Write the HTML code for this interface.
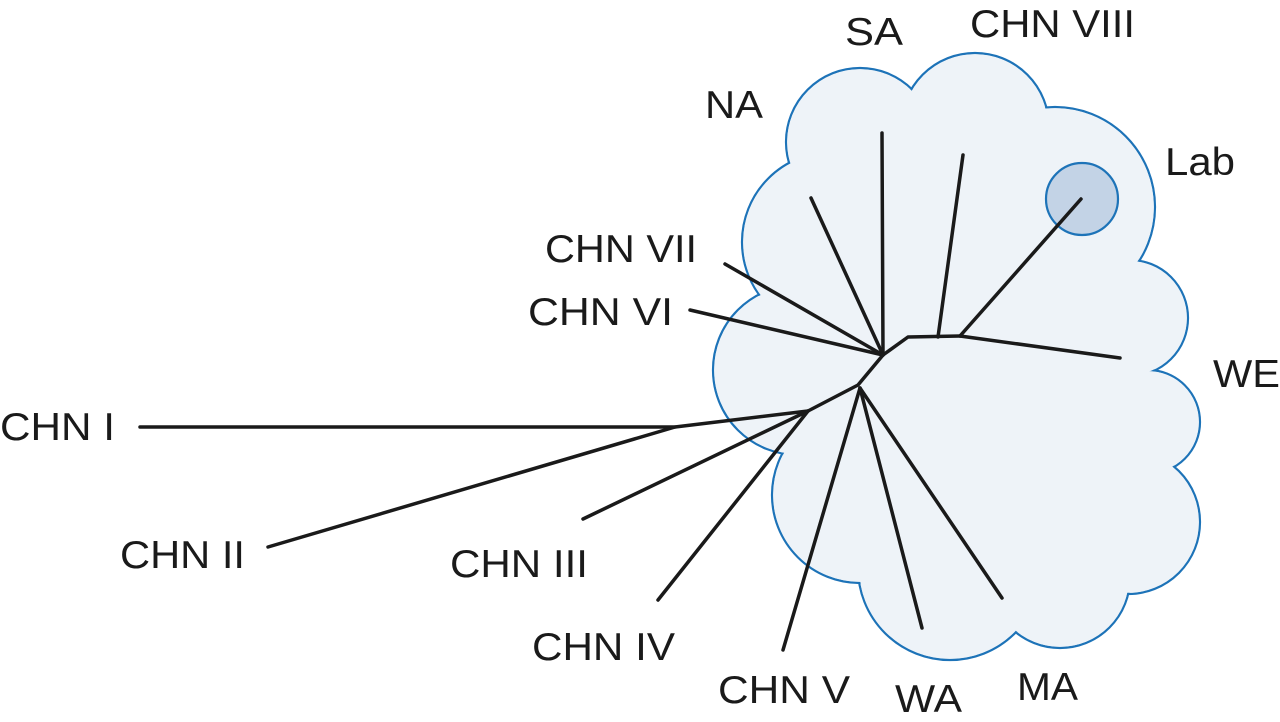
<!DOCTYPE html>
<html><head><meta charset="utf-8"><style>html,body{margin:0;padding:0;background:#fff}svg{display:block}</style></head>
<body>
<svg width="1280" height="722" viewBox="0 0 1280 722" xmlns="http://www.w3.org/2000/svg">
<g stroke="#1d73b8" stroke-width="2.2" fill="#eef3f8">
<circle cx="860" cy="142" r="74"/>
<circle cx="975" cy="127" r="74"/>
<circle cx="1055" cy="207" r="100"/>
<circle cx="1130" cy="318" r="58"/>
<circle cx="1148" cy="422" r="52"/>
<circle cx="1128" cy="522" r="72"/>
<circle cx="1060" cy="578" r="70"/>
<circle cx="950" cy="568" r="92"/>
<circle cx="860" cy="495" r="88"/>
<circle cx="798" cy="370" r="85"/>
<circle cx="832" cy="242" r="90"/>
</g>
<g fill="#eef3f8">
<circle cx="860" cy="142" r="72.8"/>
<circle cx="975" cy="127" r="72.8"/>
<circle cx="1055" cy="207" r="98.8"/>
<circle cx="1130" cy="318" r="56.8"/>
<circle cx="1148" cy="422" r="50.8"/>
<circle cx="1128" cy="522" r="70.8"/>
<circle cx="1060" cy="578" r="68.8"/>
<circle cx="950" cy="568" r="90.8"/>
<circle cx="860" cy="495" r="86.8"/>
<circle cx="798" cy="370" r="83.8"/>
<circle cx="832" cy="242" r="88.8"/>
<circle cx="960" cy="380" r="150"/>
<circle cx="930" cy="200" r="70"/>
<circle cx="1080" cy="440" r="80"/>
<circle cx="1110" cy="380" r="40"/>
<circle cx="1060" cy="500" r="60"/>
</g>
<circle cx="1082" cy="199" r="36" fill="#c3d3e6" stroke="#1d73b8" stroke-width="2.2"/>
<g stroke="#1a1a1a" stroke-width="3.5" fill="none" stroke-linecap="round" stroke-linejoin="round">
<line x1="883" y1="355" x2="811" y2="198"/>
<line x1="883" y1="355" x2="882" y2="133"/>
<line x1="883" y1="355" x2="725" y2="264"/>
<line x1="883" y1="355" x2="690" y2="310"/>
<polyline points="883,355 908,337 960,336"/>
<line x1="938" y1="337" x2="963" y2="155"/>
<line x1="960" y1="336" x2="1081" y2="199"/>
<line x1="960" y1="336" x2="1120" y2="358"/>
<polyline points="883,355 858,385 808,411 675,427 140,427"/>
<line x1="675" y1="427" x2="268" y2="547"/>
<line x1="808" y1="411" x2="583" y2="519"/>
<line x1="808" y1="411" x2="658" y2="600"/>
<line x1="860" y1="388" x2="783" y2="650"/>
<line x1="860" y1="388" x2="922" y2="628"/>
<line x1="860" y1="388" x2="1002" y2="598"/>
</g>
<g font-family="Liberation Sans, sans-serif" font-size="39" fill="#1a1a1a">
<text x="845" y="45" textLength="58" lengthAdjust="spacingAndGlyphs">SA</text>
<text x="970" y="37" textLength="165" lengthAdjust="spacingAndGlyphs">CHN VIII</text>
<text x="705" y="118" textLength="58" lengthAdjust="spacingAndGlyphs">NA</text>
<text x="1165" y="175" textLength="70" lengthAdjust="spacingAndGlyphs">Lab</text>
<text x="545" y="262" textLength="152" lengthAdjust="spacingAndGlyphs">CHN VII</text>
<text x="528" y="325" textLength="145" lengthAdjust="spacingAndGlyphs">CHN VI</text>
<text x="0" y="440" textLength="115" lengthAdjust="spacingAndGlyphs">CHN I</text>
<text x="1213" y="387" textLength="67" lengthAdjust="spacingAndGlyphs">WE</text>
<text x="120" y="568" textLength="125" lengthAdjust="spacingAndGlyphs">CHN II</text>
<text x="450" y="577" textLength="138" lengthAdjust="spacingAndGlyphs">CHN III</text>
<text x="532" y="660" textLength="143" lengthAdjust="spacingAndGlyphs">CHN IV</text>
<text x="718" y="703" textLength="132" lengthAdjust="spacingAndGlyphs">CHN V</text>
<text x="895" y="712" textLength="67" lengthAdjust="spacingAndGlyphs">WA</text>
<text x="1017" y="700" textLength="61" lengthAdjust="spacingAndGlyphs">MA</text>
</g>
</svg>
</body></html>
